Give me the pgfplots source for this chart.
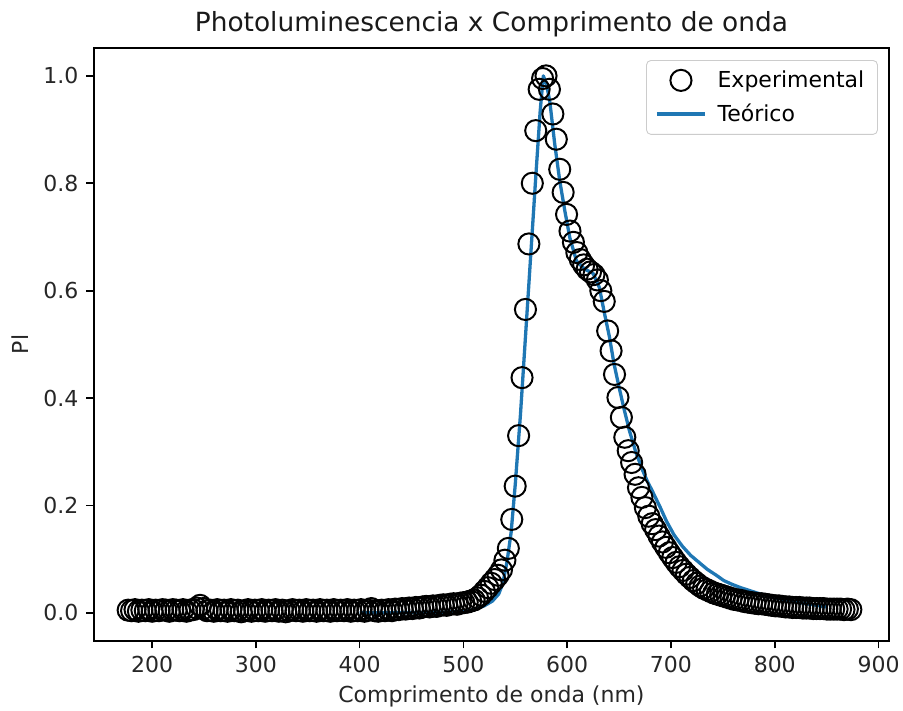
\documentclass[border=0pt]{standalone}
\usepackage{fontspec}
\setmainfont{DejaVu Sans}
\usepackage{pgfplots}
\pgfplotsset{compat=1.18}
\definecolor{tabblue}{HTML}{1F77B4}
\begin{document}
\begin{tikzpicture}
\begin{axis}[
 name=ax,
 scale only axis,
 width=361.4pt, height=269.5pt,
 xmin=144, xmax=910, ymin=-0.052, ymax=1.052,
 xtick={200,300,400,500,600,700,800,900},
 ytick={0,0.2,0.4,0.6,0.8,1.0},
 y tick label style={/pgf/number format/.cd, fixed, fixed zerofill, precision=1, /tikz/.cd},
 /pgf/number format/assume math mode=true,
 tick align=outside, major tick length=3.5pt,
 xtick pos=left, ytick pos=left,
 tick style={black, line width=0.8pt},
 axis line style={line width=0.8pt},
 ticklabel style={font=\fontsize{10}{12}\selectfont, text=black!85},
 title={Photoluminescencia x Comprimento de onda},
 title style={font=\fontsize{12}{14}\selectfont, text=black!90, yshift=-4.5pt},
 xlabel={Comprimento de onda (nm)}, ylabel={Pl},
 label style={font=\fontsize{10}{12}\selectfont, text=black!85},
 x label style={yshift=1pt},
 legend style={at={(1,1)}, anchor=north east, xshift=-5pt, yshift=-5.5pt,
   draw=black!20, rounded corners=2pt, font=\fontsize{10}{12}\selectfont,
   fill=white, row sep=2pt, column sep=3pt, inner xsep=4pt, inner ysep=2.5pt},
 legend cell align=left,
 legend image code/.code={\draw[mark repeat=2,mark phase=2,#1] plot coordinates {(0pt,0pt) (10.9pt,0pt) (21.8pt,0pt)};},
]
\addplot[only marks, mark=o, mark size=4.8pt, mark options={draw=black, line width=0.9pt}] table[row sep=\\] {
x y\\
177.0 0.005\\ 180.3 0.004\\ 183.6 0.006\\ 186.9 0.003\\ 190.2 0.005\\ 193.5 0.004\\ 196.8 0.006\\ 200.1 0.003\\
203.4 0.005\\ 206.7 0.004\\ 210.0 0.006\\ 213.3 0.005\\ 216.6 0.003\\ 219.9 0.006\\ 223.2 0.005\\ 226.5 0.004\\
229.8 0.006\\ 233.1 0.003\\ 236.4 0.005\\ 239.7 0.006\\ 243.0 0.009\\ 246.3 0.014\\ 249.6 0.008\\ 252.9 0.004\\
256.2 0.005\\ 259.5 0.003\\ 262.8 0.006\\ 266.1 0.004\\ 269.4 0.005\\ 272.7 0.003\\ 276.0 0.006\\ 279.3 0.004\\
282.6 0.005\\ 285.9 0.002\\ 289.2 0.004\\ 292.5 0.006\\ 295.8 0.003\\ 299.1 0.005\\ 302.4 0.004\\ 305.7 0.006\\
309.0 0.003\\ 312.3 0.005\\ 315.6 0.004\\ 318.9 0.006\\ 322.2 0.003\\ 325.5 0.005\\ 328.8 0.002\\ 332.1 0.004\\
335.4 0.006\\ 338.7 0.004\\ 342.0 0.005\\ 345.3 0.003\\ 348.6 0.006\\ 351.9 0.004\\ 355.2 0.005\\ 358.5 0.003\\
361.8 0.006\\ 365.1 0.004\\ 368.4 0.005\\ 371.7 0.003\\ 375.0 0.006\\ 378.3 0.004\\ 381.6 0.005\\ 384.9 0.004\\
388.2 0.006\\ 391.5 0.003\\ 394.8 0.005\\ 398.1 0.004\\ 401.4 0.006\\ 404.7 0.003\\ 408.0 0.005\\ 411.3 0.008\\
414.6 0.004\\ 417.9 0.003\\ 421.2 0.005\\ 424.5 0.004\\ 427.8 0.006\\ 431.1 0.004\\ 434.4 0.007\\ 437.7 0.006\\
441.0 0.008\\ 444.3 0.007\\ 447.6 0.009\\ 450.9 0.008\\ 454.2 0.010\\ 457.5 0.009\\ 460.8 0.011\\ 464.1 0.012\\
467.4 0.011\\ 470.7 0.013\\ 474.0 0.012\\ 477.3 0.014\\ 480.6 0.015\\ 483.9 0.014\\ 487.2 0.016\\ 490.5 0.017\\
493.8 0.016\\ 497.1 0.018\\ 500.4 0.019\\ 503.7 0.020\\ 507.0 0.022\\ 510.3 0.024\\ 513.6 0.028\\ 516.9 0.033\\
520.2 0.040\\ 523.5 0.047\\ 526.8 0.055\\ 530.1 0.062\\ 533.4 0.070\\ 536.7 0.080\\ 540.0 0.098\\ 543.3 0.120\\
546.6 0.174\\ 549.9 0.236\\ 553.2 0.330\\ 556.5 0.438\\ 559.8 0.565\\ 563.1 0.687\\ 566.4 0.800\\ 569.7 0.898\\
573.0 0.975\\ 576.3 0.995\\ 579.6 1.000\\ 582.9 0.975\\ 586.2 0.929\\ 589.5 0.882\\ 592.8 0.826\\ 596.1 0.783\\
599.4 0.742\\ 602.7 0.711\\ 606.0 0.690\\ 609.3 0.671\\ 612.6 0.658\\ 615.9 0.648\\ 619.2 0.640\\ 622.5 0.635\\
625.8 0.630\\ 629.1 0.620\\ 632.4 0.600\\ 635.7 0.580\\ 639.0 0.525\\ 642.3 0.488\\ 645.6 0.444\\ 648.9 0.401\\
652.2 0.364\\ 655.5 0.327\\ 658.8 0.302\\ 662.1 0.280\\ 665.4 0.258\\ 668.7 0.233\\ 672.0 0.215\\ 675.3 0.196\\
678.6 0.180\\ 681.9 0.166\\ 685.2 0.155\\ 688.5 0.143\\ 691.8 0.132\\ 695.1 0.122\\ 698.4 0.112\\ 701.7 0.103\\
705.0 0.094\\ 708.3 0.086\\ 711.6 0.079\\ 714.9 0.072\\ 718.2 0.066\\ 721.5 0.060\\ 724.8 0.055\\ 728.1 0.050\\
731.4 0.046\\ 734.7 0.043\\ 738.0 0.040\\ 741.3 0.037\\ 744.6 0.035\\ 747.9 0.033\\ 751.2 0.031\\ 754.5 0.029\\
757.8 0.027\\ 761.1 0.025\\ 764.4 0.024\\ 767.7 0.023\\ 771.0 0.021\\ 774.3 0.020\\ 777.6 0.019\\ 780.9 0.018\\
784.2 0.017\\ 787.5 0.017\\ 790.8 0.016\\ 794.1 0.015\\ 797.4 0.014\\ 800.7 0.013\\ 804.0 0.013\\ 807.3 0.012\\
810.6 0.011\\ 813.9 0.011\\ 817.2 0.010\\ 820.5 0.010\\ 823.8 0.010\\ 827.1 0.009\\ 830.4 0.009\\ 833.7 0.009\\
837.0 0.008\\ 840.3 0.008\\ 843.6 0.008\\ 846.9 0.008\\ 850.2 0.007\\ 853.5 0.007\\ 856.8 0.007\\ 860.1 0.007\\
863.4 0.007\\ 866.7 0.006\\ 870.0 0.007\\ 873.3 0.006\\
};
\addlegendentry{Experimental}
\addplot[tabblue, line width=1.5pt, mark=none, line join=round] table[row sep=\\] {
x y\\
400 0.000\\ 450 0.0005\\ 480 0.001\\ 500 0.003\\ 510 0.006\\ 520 0.013\\ 528 0.022\\ 534 0.035\\
538 0.055\\ 542 0.095\\ 546 0.150\\ 550 0.240\\ 555 0.370\\ 560 0.520\\ 565 0.670\\ 570 0.820\\
574 0.935\\ 577 1.000\\ 580 0.985\\ 583.2 0.953\\ 588 0.873\\ 592.8 0.805\\ 597.7 0.749\\ 602.5 0.699\\
609 0.655\\ 617 0.640\\ 625 0.632\\ 631 0.606\\ 636 0.557\\ 640.8 0.513\\ 645 0.465\\ 650 0.420\\
655 0.378\\ 660 0.339\\ 666 0.300\\ 673 0.264\\ 677 0.246\\ 682 0.227\\ 690 0.195\\ 695.6 0.171\\
703 0.145\\ 711 0.124\\ 719 0.107\\ 727.6 0.093\\ 735 0.081\\ 743.7 0.070\\ 751 0.060\\ 759 0.053\\
767 0.047\\ 775 0.042\\ 783 0.037\\ 792 0.032\\ 800 0.028\\ 808 0.025\\ 816 0.022\\ 824 0.019\\
837 0.015\\ 850 0.011\\
};
\addlegendentry{Teórico}
\end{axis}
\pgfresetboundingbox
\path ([xshift=-42.7pt,yshift=-31.8pt]ax.south west) rectangle ([xshift=6.4pt,yshift=21.8pt]ax.north east);
\end{tikzpicture}
\end{document}
